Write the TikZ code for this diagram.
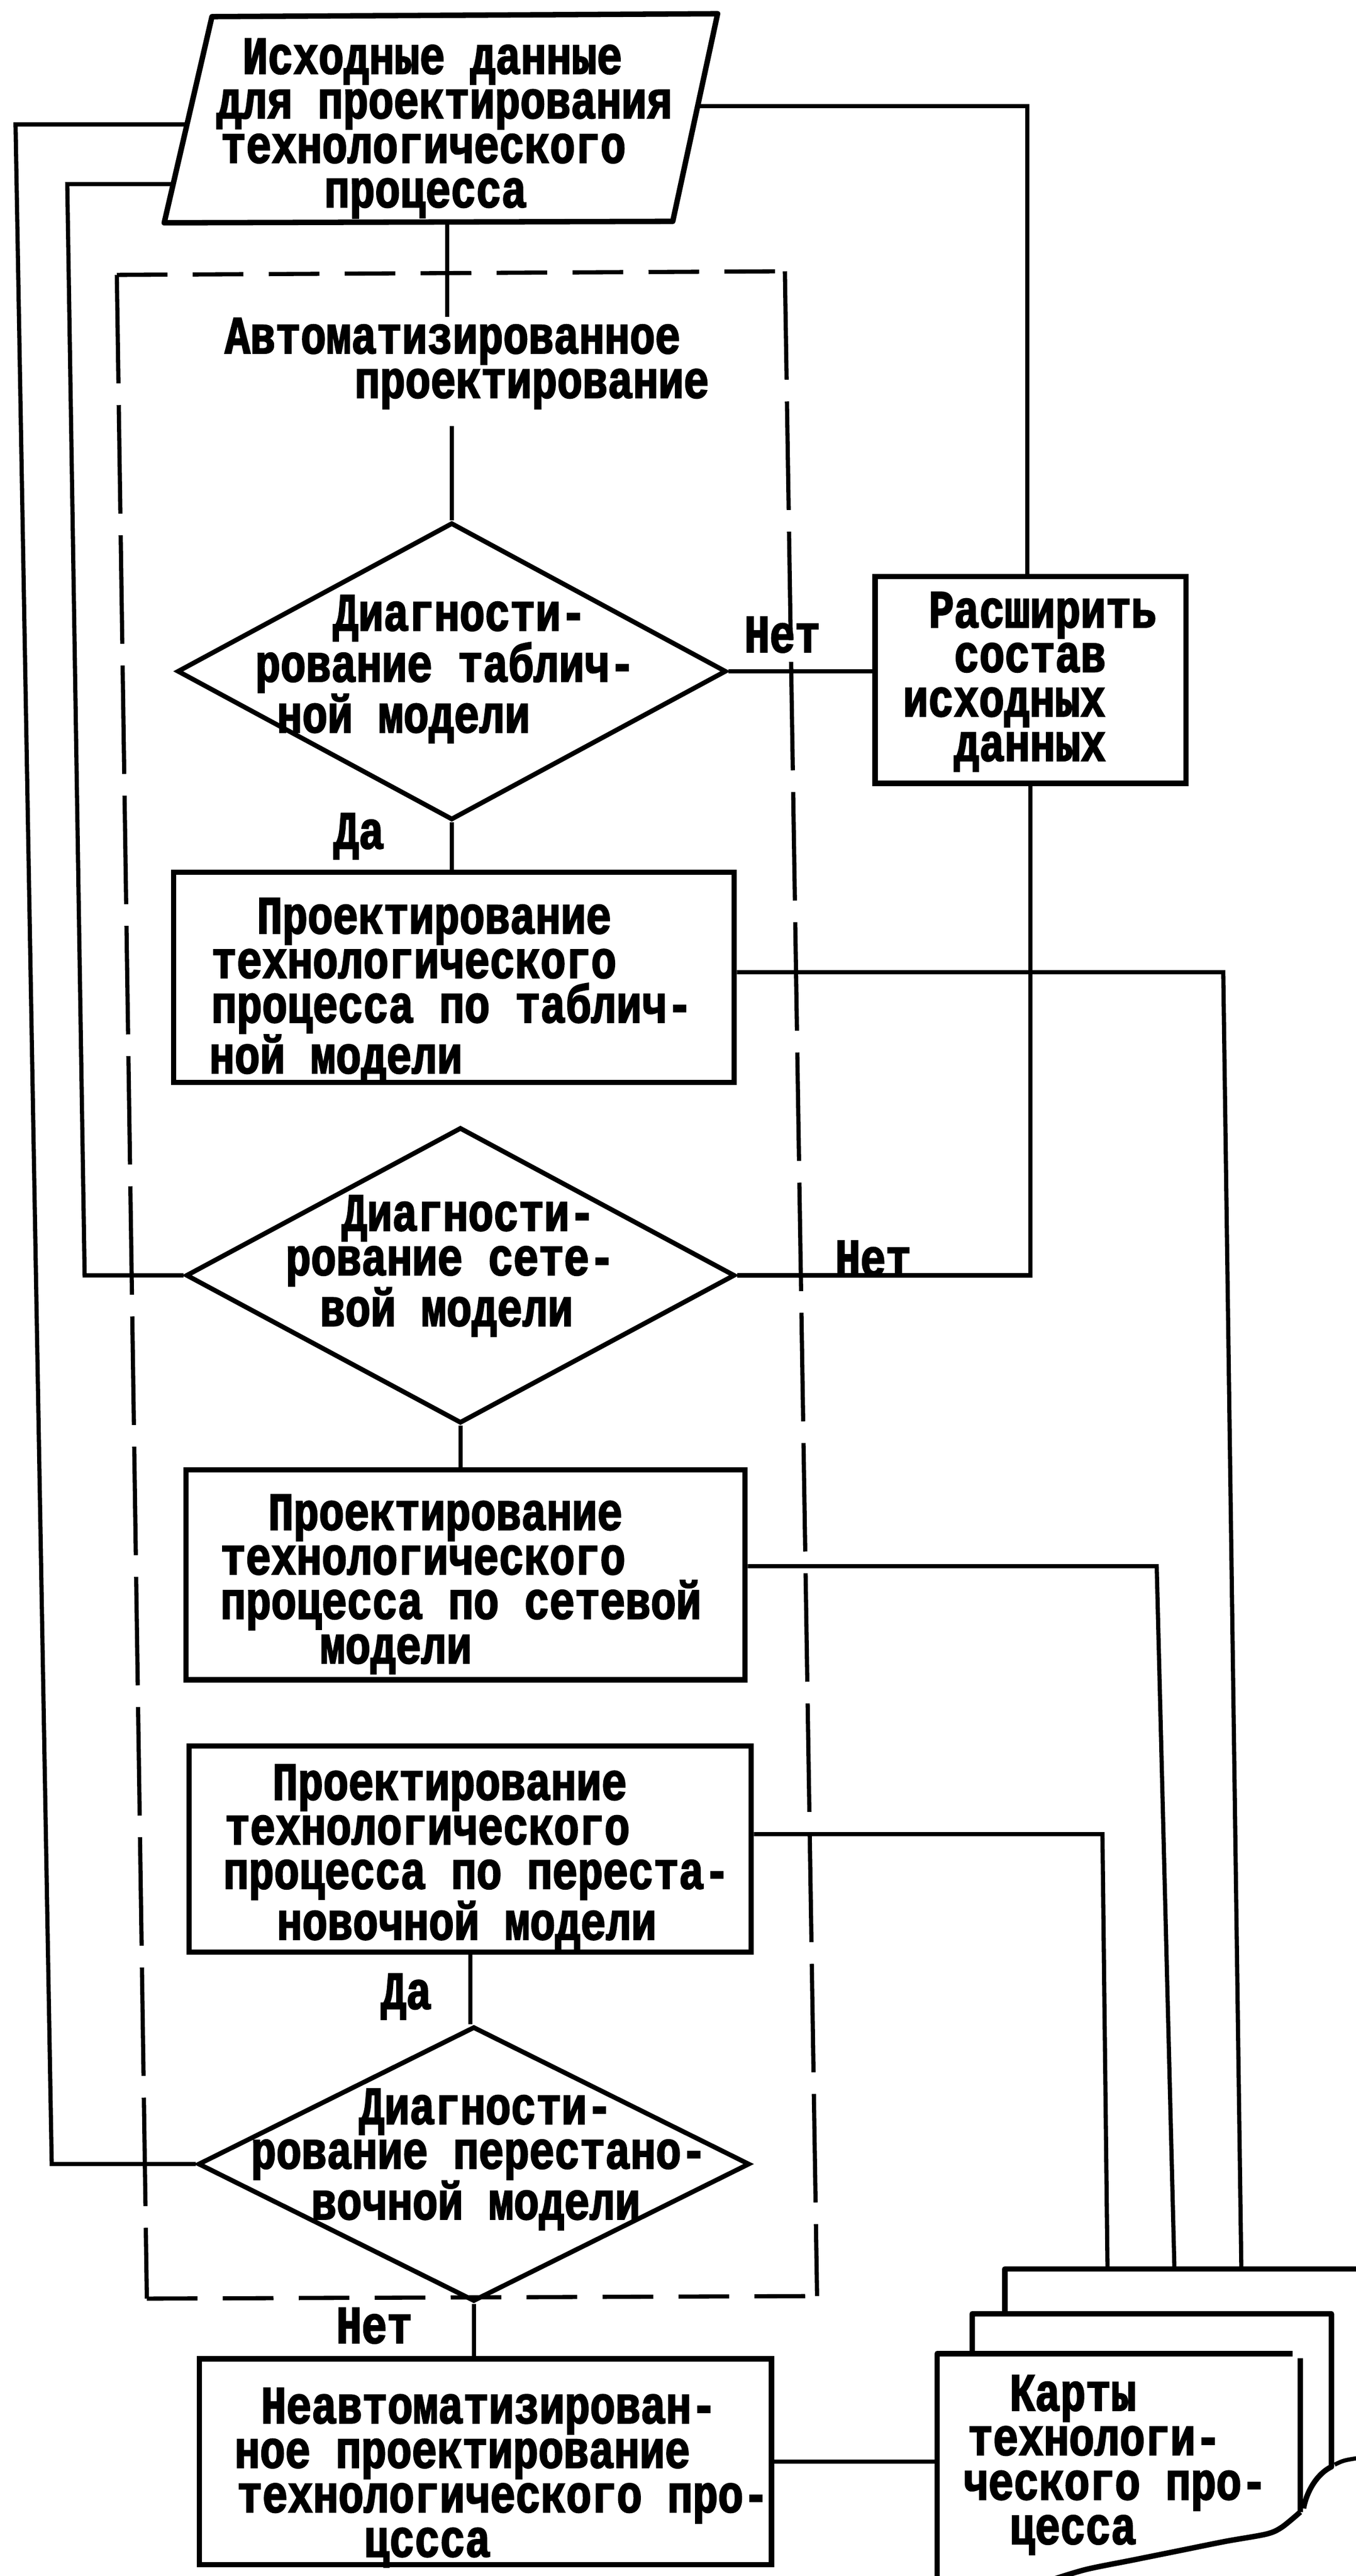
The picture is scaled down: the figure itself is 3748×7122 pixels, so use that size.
\documentclass[tikz,border=0pt]{standalone}
\usepackage{fontspec}
\newfontfamily\tw{Liberation Mono}[FakeStretch=0.79,FakeBold=2.5]
\usetikzlibrary{shapes.geometric}
\begin{document}
\begin{tikzpicture}[x=0.1mm,y=-0.1mm,
  txt/.style={font={\tw\bfseries\fontsize{42pt}{35pt}\selectfont}, inner sep=0pt, align=left, anchor=west},
  lbl/.style={font={\tw\bfseries\fontsize{42pt}{35pt}\selectfont}, inner sep=0pt},
  box/.style={draw, line width=1.5mm, rectangle, inner sep=0pt},
  frame/.style={line width=1.5mm, line join=round},
  dia/.style={draw, line width=1.3mm, diamond, inner sep=0pt},
  conn/.style={line width=1.15mm},
  dshv/.style={line width=1.15mm, dash pattern=on 30mm off 6mm},
  dshh/.style={line width=1.15mm, dash pattern=on 14mm off 7mm}]
\useasboundingbox (0,0) rectangle (3748,7122);

% source parallelogram
\coordinate (pTL) at (586,46);
\coordinate (pTR) at (1984,38);
\coordinate (pBR) at (1860,612);
\coordinate (pBL) at (454,616);
\draw[frame] (pTL) -- (pTR) -- (pBR) -- (pBL) -- cycle;
\node[txt] (src) at (598,355) {\hspace*{7.2mm}Исходные данные\\для проектирования\\\hspace*{1.2mm}технологического\\\hspace*{29.8mm}процесса};

% dashed frame
\coordinate (dTL) at (323,760);
\coordinate (dTR) at (2170,750);
\coordinate (dBR) at (2259,6348);
\coordinate (dBL) at (406,6355);
\draw[dshh] (dTL) -- (dTR);
\draw[dshv] (dTR) -- (dBR);
\draw[dshv] (dTL) -- (dBL);
\draw[dshh] (dBL) -- (dBR);

\node[txt] (auto) at (621,1005) {Автоматизированное\\\hspace*{35.9mm}проектирование};

% decision and process nodes
\node[dia, minimum width=151.8mm, minimum height=82.2mm] (d1) at (1249,1856) {};
\node[txt] (d1t) at (705,1850) {\hspace*{21.5mm}Диагности-\\рование таблич-\\\hspace*{6mm}ной модели};

\node[box, minimum width=86mm, minimum height=57.2mm] (R) at (2849,1880) {};
\node[txt] (Rt) at (2496,1885) {\hspace*{7.1mm}Расширить\\\hspace*{14.1mm}состав\\исходных\\\hspace*{14.1mm}данных};

\node[box, minimum width=155mm, minimum height=58.1mm] (b2) at (1255,2702) {};
\node[txt] (b2t) at (578,2740) {\hspace*{13.2mm}Проектирование\\\hspace*{0.6mm}технологического\\\hspace*{0.6mm}процесса по таблич-\\ной модели};

\node[dia, minimum width=151.8mm, minimum height=81.8mm] (d2) at (1273,3526) {};
\node[txt] (d2t) at (789,3500) {\hspace*{15.5mm}Диагности-\\рование сете-\\\hspace*{9.5mm}вой модели};

\node[box, minimum width=154.6mm, minimum height=58.1mm] (b3) at (1287,4354) {};
\node[txt] (b3t) at (609,4380) {\hspace*{13.2mm}Проектирование\\технологического\\процесса по сетевой\\\hspace*{27.5mm}модели};

\node[box, minimum width=155.4mm, minimum height=57mm] (b4) at (1300,5112) {};
\node[txt] (b4t) at (617,5135) {\hspace*{13.6mm}Проектирование\\\hspace*{0.4mm}технологического\\процесса по переста-\\\hspace*{14.8mm}новочной модели};

\node[dia, minimum width=152.5mm, minimum height=76mm] (d3) at (1310,5983) {};
\node[txt] (d3t) at (693,5970) {\hspace*{29.9mm}Диагности-\\рование перестано-\\\hspace*{16.7mm}вочной модели};

\node[box, minimum width=158.2mm, minimum height=56.9mm] (b5) at (1342,6806) {};
\node[txt] (b5t) at (648,6850) {\hspace*{7.3mm}Неавтоматизирован-\\ное проектирование\\\hspace*{0.7mm}технологического про-\\\hspace*{35.8mm}цссса};

% labels
\node[lbl] (no1) at (2163,1755) {Нет};
\node[lbl] (yes1) at (992,2312) {Да};
\node[lbl] (no2) at (2414,3480) {Нет};
\node[lbl] (yes2) at (1123,5520) {Да};
\node[lbl] (no3) at (1035,6430) {Нет};

% cards stack
\draw[frame] (2778,6397) -- (2778,6273) -- (3760,6273);
\draw[conn] (3690,6814) .. controls (3715,6802) .. (3760,6795);
\draw[frame] (2688,6507) -- (2688,6397) -- (3681,6397) -- (3681,6820)
  .. controls (3640,6840) and (3612,6890) .. (3604,6935);
\draw[frame] (2591,7140) -- (2591,6507) -- (3574,6507);
\draw[frame] (3595,6520) -- (3595,6945) plot[smooth] coordinates {(3595,6945) (3544,6987) (3501,7006) (3389,7026) (3260,7052) (3131,7078) (3002,7104) (2900,7135)};
\node[txt] (cards) at (2662,6815) {\hspace*{12.9mm}Карты\\\hspace*{1.3mm}технологи-\\ческого про-\\\hspace*{12.9mm}цесса};
\coordinate (fcL) at (2591,6806);

% connectors
\coordinate (pB) at (1236,614);
\coordinate (autoTop) at (1236,876);
\coordinate (autoBot) at (1249,1178);
\draw[conn] (pB) -- (autoTop);
\draw[conn] (autoBot) -- (d1.north);

\coordinate (pL1) at (516,344);
\coordinate (cL1a) at (43,344);
\coordinate (cL1b) at (143,5983);
\draw[conn] (pL1) -- (cL1a) -- (cL1b) -- (d3.west);

\coordinate (pL2) at (479,509);
\coordinate (cL2a) at (186,509);
\coordinate (cL2b) at (234,3526);
\draw[conn] (pL2) -- (cL2a) -- (cL2b) -- (d2.west);

\coordinate (pR) at (1926,293);
\coordinate (cR1) at (2840,293);
\draw[conn] (pR) -- (cR1) -- (cR1 |- R.north);

\draw[conn] (d1.east) -- (d1.east -| R.west);
\draw[conn] (R.south) -- (R.south |- d2.east) -- (d2.east);

\draw[conn] (d1.south) -- (d1.south |- b2.north);
\draw[conn] (d2.south) -- (d2.south |- b3.north);
\draw[conn] (b4.south) -- (b4.south |- d3.north);
\draw[conn] (d3.south) -- (d3.south |- b5.north);

\coordinate (cB2a) at (3382,2688);
\coordinate (cB2b) at (3432,6273);
\draw[conn] (b2.east |- cB2a) -- (cB2a) -- (cB2b);
\coordinate (cB3a) at (3198,4330);
\coordinate (cB3b) at (3247,6273);
\draw[conn] (b3.east |- cB3a) -- (cB3a) -- (cB3b);
\coordinate (cB4a) at (3048,5071);
\coordinate (cB4b) at (3062,6273);
\draw[conn] (b4.east |- cB4a) -- (cB4a) -- (cB4b);

\draw[conn] (b5.east) -- (fcL);
\end{tikzpicture}
\end{document}
